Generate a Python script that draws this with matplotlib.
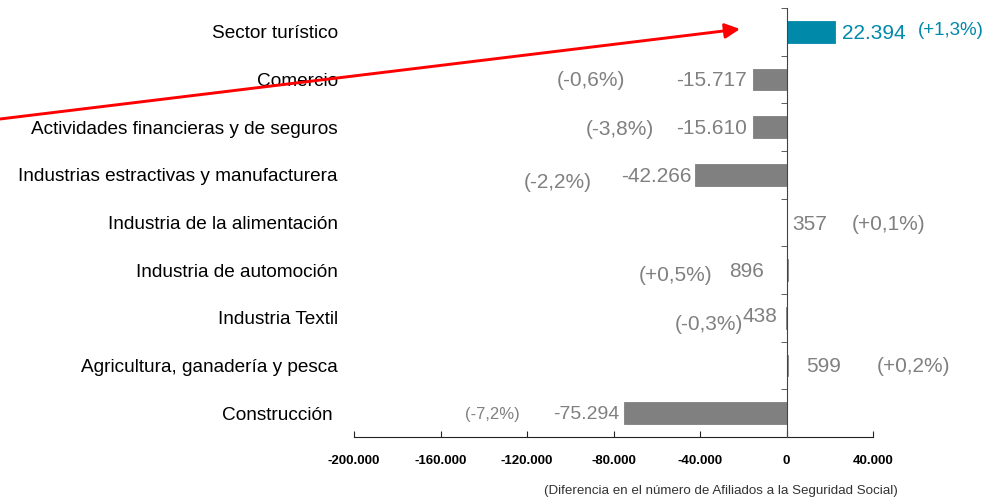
import matplotlib
matplotlib.use('Agg')
import matplotlib.pyplot as plt
import numpy as np

plt.rcParams['font.family'] = ['Liberation Sans', 'DejaVu Sans']

# Data
sectors = ['Sector turístico', 'Comercio', 'Actividades financieras y de seguros',
           'Industrias estractivas y manufacturera', 'Industria de la alimentación',
           'Industria de automoción', 'Industria Textil',
           'Agricultura, ganadería y pesca', 'Construcción ']
values = [22394, -15717, -15610, -42266, 357, 896, -438, 599, -75294]
value_labels = ['22.394', '-15.717', '-15.610', '-42.266', '357', '896', '438', '599', '-75.294']
pct_labels = ['(+1,3%)', '(-0,6%)', '(-3,8%)', '(-2,2%)', '(+0,1%)', '(+0,5%)',
              '(-0,3%)', '(+0,2%)', '(-7,2%)']
xticks = [-200000, -160000, -120000, -80000, -40000, 0, 40000]
xtick_labels = ['-200.000', '-160.000', '-120.000', '-80.000', '-40.000', '0', '40.000']

# Label placement (pixels relative to bar end: dx, dy downwards)
val_off = [(6.6, 2), (-6, 1), (-6, 1), (-3.6, 2), (5.2, 2), (-24, 1), (-8, -1), (18.7, 1), (-4, 1)]
pct_off = [(82.6, -1), (-127, 1), (-99, 2), (-103.6, 8), (64, 2), (-76, 5), (-42, 7), (88.7, 1), (-104, 1)]
val_size = [15, 15, 15, 15, 15, 15, 15, 15, 14]
pct_size = [13.5, 15, 15, 15, 15, 15, 15, 15, 12]

GRAY = '#808080'
TEAL = '#0089a9'
colors = [TEAL] + [GRAY] * 8

fig = plt.figure(figsize=(10.08, 4.99), dpi=100)
ax = fig.add_axes([354 / 1008, 1 - 437 / 499, 519 / 1008, 429 / 499])

y = np.arange(len(sectors))
ax.barh(y, values, height=0.45, color=colors, edgecolor=colors, linewidth=0.6, zorder=2)

ax.set_xlim(-200000, 40000)
ax.set_ylim(8.5, -0.5)

# spines
for s in ['top', 'right']:
    ax.spines[s].set_visible(False)
ax.spines['left'].set_position(('data', 0))
ax.spines['left'].set_color('#444444')
ax.spines['bottom'].set_color('#222222')
ax.spines['left'].set_zorder(3)

ax.set_yticks(y)
ax.set_yticklabels([])
ax.tick_params(axis='y', which='major', length=0)
ax.set_yticks(np.arange(-0.5, 9.0, 1.0), minor=True)
ax.tick_params(axis='y', which='minor', direction='out', length=4.5, color='#444444')

ax.set_xticks(xticks)
ax.set_xticklabels(xtick_labels, fontsize=9.5, fontweight='bold')
ax.tick_params(axis='x', direction='in', length=4, color='#222222', pad=13)

# category labels
for i, name in enumerate(sectors):
    ax.annotate(name, xy=(-16 / 519, i), xycoords=ax.get_yaxis_transform(),
                xytext=(0, -1.5), textcoords='offset points',
                ha='right', va='center', fontsize=13.7, color='black')

# value and percentage labels
for i, v in enumerate(values):
    c = TEAL if i == 0 else GRAY
    dx, dy = val_off[i]
    ax.annotate(value_labels[i], xy=(v, i), xytext=(dx * 0.72, -dy * 0.72),
                textcoords='offset points', ha='left' if dx > 0 else 'right',
                va='center', fontsize=val_size[i], color=c)
    dx, dy = pct_off[i]
    ax.annotate(pct_labels[i], xy=(v, i), xytext=(dx * 0.72, -dy * 0.72),
                textcoords='offset points', ha='left' if dx > 0 else 'right',
                va='center', fontsize=pct_size[i], color=c)

# red arrow
ax.annotate('', xy=(740 / 1008, 1 - 29 / 499), xycoords='figure fraction',
            xytext=(0, 1 - 119 / 499), textcoords='figure fraction',
            arrowprops=dict(arrowstyle='-|>,head_length=0.9,head_width=0.45',
                            color='red', lw=2.1, shrinkA=0, shrinkB=0),
            annotation_clip=False)

fig.text(898 / 1008, 1 - 491 / 499, '(Diferencia en el número de Afiliados a la Seguridad Social)',
         ha='right', va='center', fontsize=9.6, color='#333333')

fig.savefig('out.png', dpi=100)
